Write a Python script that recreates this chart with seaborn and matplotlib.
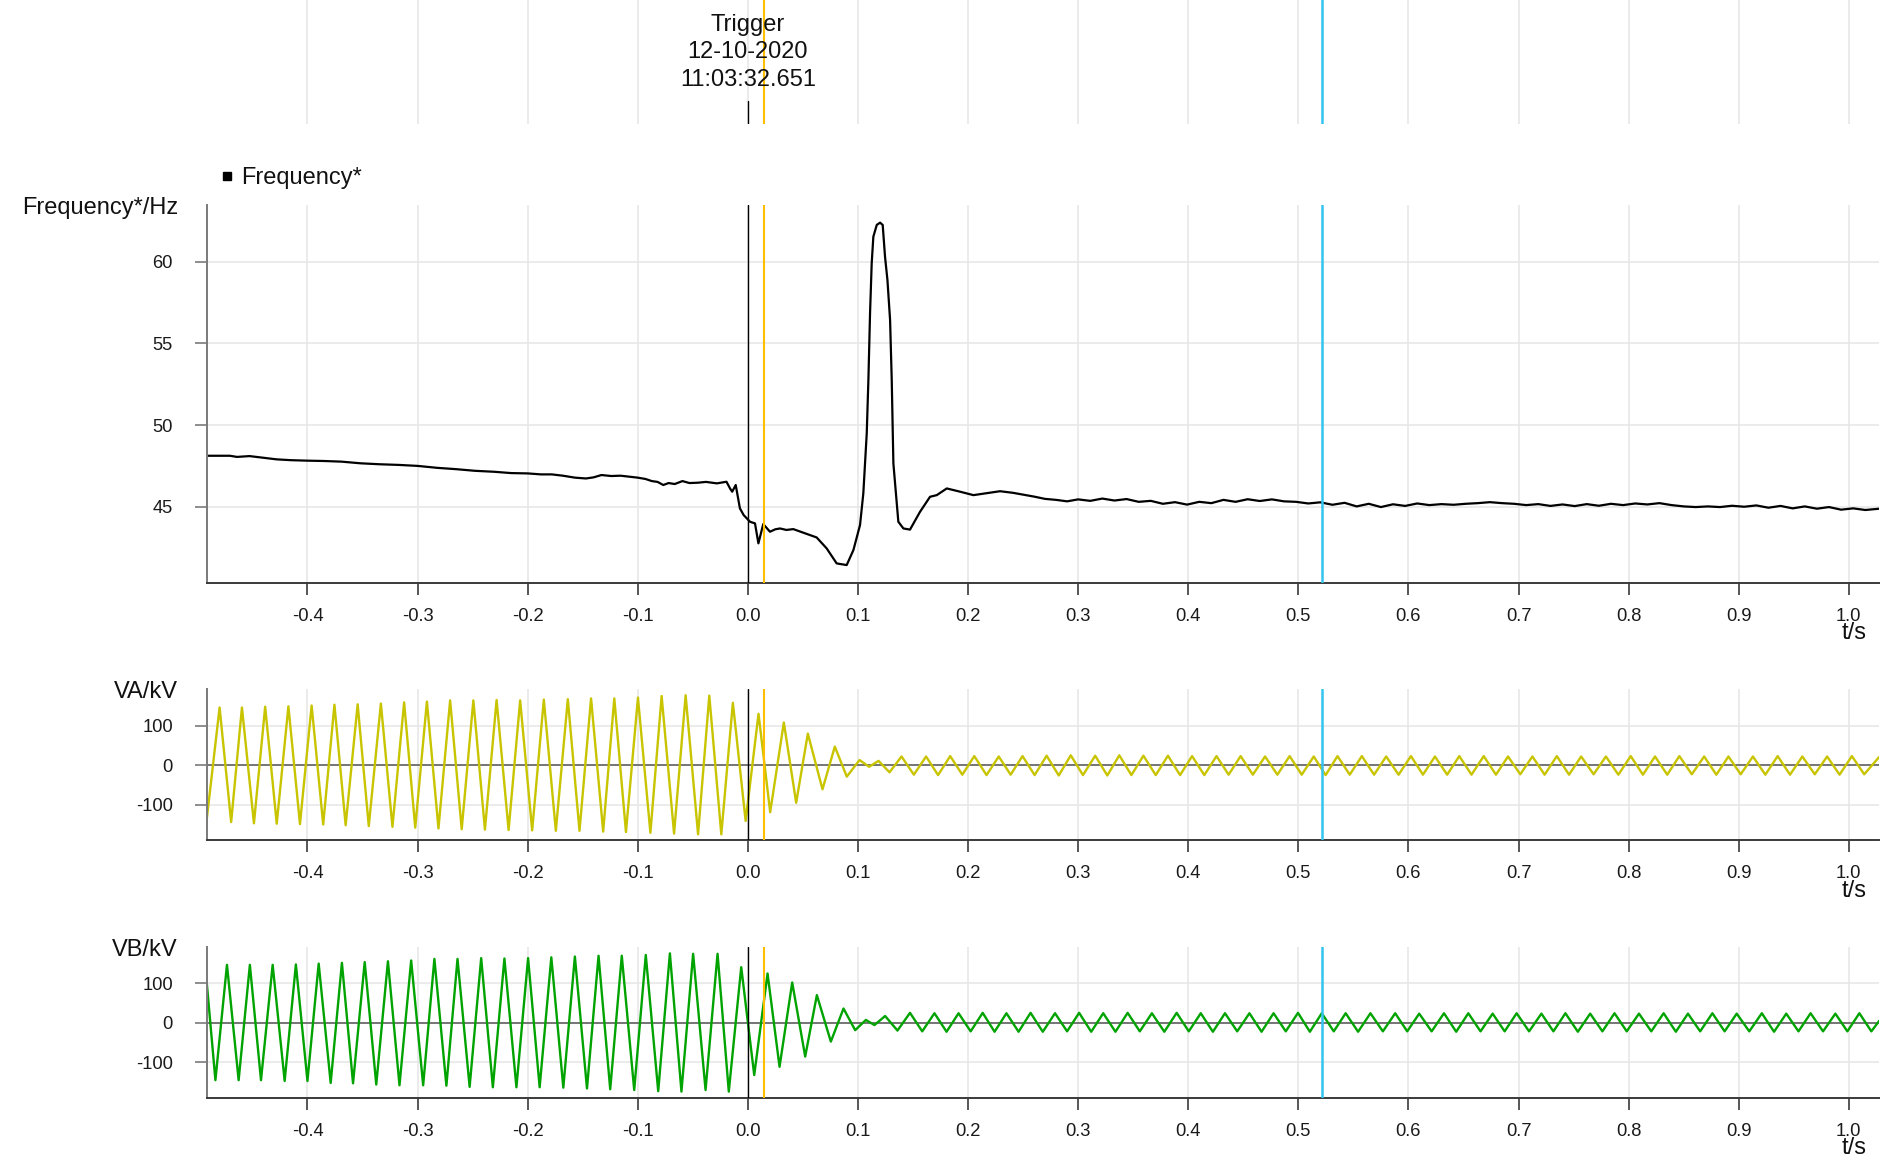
import matplotlib
matplotlib.use("Agg")
import matplotlib.pyplot as plt
from matplotlib.lines import Line2D
import pandas as pd
import seaborn as sns

# --- DATA ---
x_ticks = [-0.4, -0.3, -0.2, -0.1, 0.0, 0.1, 0.2, 0.3, 0.4, 0.5, 0.6, 0.7, 0.8, 0.9, 1.0]
x_tick_labels = ["-0.4", "-0.3", "-0.2", "-0.1", "0.0", "0.1", "0.2", "0.3", "0.4",
                 "0.5", "0.6", "0.7", "0.8", "0.9", "1.0"]
freq_ticks = [45, 50, 55, 60]
volt_ticks = [-100, 0, 100]

t_trigger = 0.0
t_cursor_a = 0.0149
t_cursor_b = 0.5213
trigger_text = ["Trigger", "12-10-2020", "11:03:32.651"]

# frequency trace (s, Hz)
freq_t = [-0.4916, -0.4705, -0.4640, -0.4526, -0.4400, -0.4280, -0.4150, -0.4000, -0.3850, -0.3690,
          -0.3520, -0.3345, -0.3170, -0.3000, -0.2820, -0.2650, -0.2480, -0.2304, -0.2150, -0.2000,
          -0.1880, -0.1780, -0.1680, -0.1570, -0.1470, -0.1400, -0.1330, -0.1240, -0.1156, -0.1080,
          -0.1000, -0.0930, -0.0872, -0.0820, -0.0768, -0.0720, -0.0664, -0.0594, -0.0530, -0.0455,
          -0.0380, -0.0281, -0.0194, -0.0160, -0.0142, -0.0110, -0.0072, -0.0038, 0.0020, 0.0065,
          0.0096, 0.0140, 0.0201, 0.0250, 0.0292, 0.0350, 0.0413, 0.0504, 0.0625, 0.0716,
          0.0807, 0.0898, 0.0959, 0.1019, 0.1049, 0.1080, 0.1095, 0.1110, 0.1125, 0.1140,
          0.1171, 0.1201, 0.1225, 0.1246, 0.1268, 0.1292, 0.1307, 0.1322, 0.1367, 0.1413,
          0.1473, 0.1564, 0.1655, 0.1716, 0.1807, 0.1928, 0.2049, 0.2200, 0.2291, 0.2410,
          0.2520, 0.2600, 0.2700, 0.2800, 0.2900, 0.3000, 0.3110, 0.3220, 0.3330, 0.3440,
          0.3550, 0.3660, 0.3770, 0.3880, 0.3990, 0.4100, 0.4210, 0.4320, 0.4430, 0.4540,
          0.4650, 0.4760, 0.4870, 0.4980, 0.5090, 0.5200, 0.5310, 0.5420, 0.5530, 0.5640,
          0.5750, 0.5860, 0.5970, 0.6080, 0.6190, 0.6300, 0.6410, 0.6520, 0.6630, 0.6740,
          0.6850, 0.6960, 0.7070, 0.7180, 0.7290, 0.7400, 0.7510, 0.7620, 0.7730, 0.7840,
          0.7950, 0.8060, 0.8170, 0.8280, 0.8390, 0.8500, 0.8610, 0.8720, 0.8830, 0.8940,
          0.9050, 0.9160, 0.9270, 0.9380, 0.9490, 0.9600, 0.9710, 0.9820, 0.9930, 1.0040,
          1.0150, 1.0277]
freq_hz = [48.12, 48.12, 48.05, 48.10, 48.00, 47.90, 47.85, 47.82, 47.80, 47.76,
           47.66, 47.60, 47.56, 47.50, 47.38, 47.30, 47.20, 47.14, 47.06, 47.04,
           46.98, 46.98, 46.90, 46.78, 46.73, 46.80, 46.94, 46.88, 46.90, 46.84,
           46.78, 46.70, 46.57, 46.52, 46.33, 46.45, 46.39, 46.57, 46.45, 46.47,
           46.52, 46.43, 46.53, 46.10, 45.92, 46.33, 44.90, 44.49, 44.08, 43.98,
           42.76, 43.94, 43.47, 43.62, 43.67, 43.58, 43.63, 43.41, 43.12, 42.45,
           41.53, 41.43, 42.35, 43.88, 45.82, 49.49, 52.76, 56.84, 59.90, 61.53,
           62.25, 62.39, 62.25, 60.31, 58.88, 56.43, 52.76, 47.65, 44.08, 43.67,
           43.60, 44.69, 45.61, 45.71, 46.12, 45.92, 45.71, 45.86, 45.95, 45.85,
           45.72, 45.62, 45.48, 45.42, 45.33, 45.45, 45.36, 45.50, 45.38, 45.47,
           45.30, 45.36, 45.18, 45.28, 45.13, 45.30, 45.22, 45.42, 45.30, 45.46,
           45.35, 45.45, 45.33, 45.30, 45.20, 45.27, 45.12, 45.24, 45.02, 45.18,
           44.98, 45.15, 45.05, 45.20, 45.10, 45.16, 45.12, 45.18, 45.22, 45.28,
           45.22, 45.18, 45.10, 45.16, 45.05, 45.14, 45.04, 45.16, 45.06, 45.18,
           45.10, 45.20, 45.14, 45.22, 45.10, 45.02, 44.98, 45.02, 44.98, 45.06,
           45.00, 45.08, 44.94, 45.05, 44.90, 45.02, 44.88, 44.98, 44.82, 44.90,
           44.80, 44.88]

# VA: successive peaks / troughs (s, kV)
va_t = [-0.4916, -0.4798, -0.4693, -0.4595, -0.4486, -0.4384, -0.4279, -0.4173, -0.4068, -0.3962,
        -0.3857, -0.3755, -0.3653, -0.3544, -0.3443, -0.3333, -0.3228, -0.3122, -0.3021, -0.2915,
        -0.2810, -0.2704, -0.2599, -0.2493, -0.2388, -0.2282, -0.2173, -0.2068, -0.1959, -0.1853,
        -0.1744, -0.1635, -0.1529, -0.1424, -0.1314, -0.1213, -0.1107, -0.0998, -0.0885, -0.0783,
        -0.0670, -0.0565, -0.0452, -0.0350, -0.0241, -0.0136, -0.0020, 0.0097, 0.0203, 0.0327,
        0.0439, 0.0545, 0.0678, 0.0790, 0.0899, 0.1014, 0.1102, 0.1187, 0.1287, 0.1396,
        0.1508, 0.1619, 0.1728, 0.1838, 0.1948, 0.2057, 0.2168, 0.2279, 0.2387, 0.2495,
        0.2605, 0.2714, 0.2824, 0.2933, 0.3044, 0.3155, 0.3265, 0.3374, 0.3484, 0.3593,
        0.3705, 0.3816, 0.3926, 0.4035, 0.4146, 0.4257, 0.4367, 0.4476, 0.4587, 0.4698,
        0.4810, 0.4921, 0.5031, 0.5140, 0.5248, 0.5356, 0.5467, 0.5577, 0.5688, 0.5798,
        0.5911, 0.6023, 0.6132, 0.6241, 0.6352, 0.6462, 0.6573, 0.6684, 0.6795, 0.6905,
        0.7016, 0.7126, 0.7237, 0.7348, 0.7459, 0.7569, 0.7682, 0.7794, 0.7907, 0.8019,
        0.8130, 0.8240, 0.8351, 0.8461, 0.8574, 0.8686, 0.8797, 0.8907, 0.9018, 0.9129,
        0.9242, 0.9354, 0.9466, 0.9578, 0.9691, 0.9803, 0.9916, 1.0028, 1.0140, 1.0277]
va_kv = [-140, 146, -144, 146, -147, 148, -148, 149, -149, 151,
         -150, 153, -152, 154, -154, 156, -156, 159, -158, 161,
         -160, 164, -162, 164, -163, 165, -164, 164, -165, 166,
         -166, 167, -166, 169, -168, 169, -169, 171, -171, 175,
         -173, 177, -175, 176, -175, 158, -141, 130, -119, 108,
         -95, 80, -61, 47, -29, 13, -4, 11, -18, 22,
         -24, 22, -25, 23, -24, 23, -25, 22, -24, 23,
         -25, 24, -26, 25, -25, 24, -26, 25, -25, 24,
         -25, 24, -25, 23, -25, 23, -24, 23, -24, 22,
         -24, 23, -24, 22, -25, 23, -24, 23, -24, 22,
         -24, 23, -24, 22, -24, 23, -24, 23, -24, 22,
         -23, 22, -24, 23, -24, 22, -23, 22, -24, 23,
         -24, 22, -24, 23, -23, 22, -24, 22, -23, 22,
         -24, 23, -24, 22, -23, 22, -24, 23, -23, 21]

# VB: successive peaks / troughs (s, kV)
vb_t = [-0.4916, -0.4836, -0.4731, -0.4625, -0.4523, -0.4422, -0.4316, -0.4207, -0.4105, -0.4000,
        -0.3898, -0.3789, -0.3687, -0.3586, -0.3480, -0.3375, -0.3269, -0.3164, -0.3058, -0.2949,
        -0.2847, -0.2738, -0.2637, -0.2527, -0.2422, -0.2316, -0.2211, -0.2102, -0.1996, -0.1891,
        -0.1785, -0.1676, -0.1571, -0.1461, -0.1356, -0.1250, -0.1145, -0.1032, -0.0927, -0.0814,
        -0.0708, -0.0603, -0.0497, -0.0384, -0.0275, -0.0173, -0.0060, 0.0058, 0.0179, 0.0288,
        0.0403, 0.0521, 0.0627, 0.0754, 0.0869, 0.0975, 0.1072, 0.1150, 0.1247, 0.1359,
        0.1473, 0.1584, 0.1695, 0.1805, 0.1914, 0.2024, 0.2133, 0.2241, 0.2349, 0.2459,
        0.2568, 0.2679, 0.2790, 0.2900, 0.3009, 0.3119, 0.3228, 0.3339, 0.3450, 0.3560,
        0.3670, 0.3783, 0.3895, 0.4005, 0.4114, 0.4224, 0.4334, 0.4445, 0.4556, 0.4666,
        0.4775, 0.4886, 0.4997, 0.5105, 0.5213, 0.5322, 0.5430, 0.5543, 0.5655, 0.5768,
        0.5880, 0.5989, 0.6098, 0.6211, 0.6323, 0.6434, 0.6544, 0.6655, 0.6765, 0.6874,
        0.6983, 0.7096, 0.7208, 0.7317, 0.7426, 0.7539, 0.7651, 0.7762, 0.7872, 0.7983,
        0.8094, 0.8206, 0.8318, 0.8429, 0.8539, 0.8650, 0.8761, 0.8872, 0.8982, 0.9096,
        0.9210, 0.9321, 0.9432, 0.9543, 0.9653, 0.9766, 0.9878, 0.9987, 1.0096, 1.0205,
        1.0277]
vb_kv = [106, -146, 147, -146, 147, -146, 147, -148, 148, -148,
         150, -153, 152, -154, 154, -157, 156, -159, 158, -159,
         162, -160, 162, -163, 164, -164, 163, -164, 164, -164,
         166, -165, 168, -167, 170, -169, 170, -171, 172, -174,
         176, -175, 175, -171, 175, -175, 141, -133, 125, -112,
         102, -86, 70, -48, 36, -19, 7, -6, 17, -20,
         25, -22, 24, -23, 24, -22, 25, -23, 24, -23,
         25, -23, 24, -22, 25, -23, 24, -23, 25, -22,
         24, -23, 25, -22, 24, -23, 24, -22, 24, -23,
         24, -22, 25, -23, 24, -22, 24, -23, 24, -22,
         24, -22, 23, -22, 24, -23, 24, -22, 23, -22,
         24, -22, 23, -22, 24, -23, 23, -22, 24, -22,
         23, -22, 24, -23, 23, -22, 24, -22, 23, -22,
         24, -23, 23, -22, 24, -22, 23, -22, 24, -22,
         5]

freq_df = pd.DataFrame({"t": freq_t, "f": freq_hz})
va_df = pd.DataFrame({"t": va_t, "v": va_kv})
vb_df = pd.DataFrame({"t": vb_t, "v": vb_kv})

# --- STYLE ---
sns.set_theme(style="whitegrid")
plt.rcParams["font.family"] = ["Liberation Sans", "DejaVu Sans"]

W, H = 1888, 1160
X_MIN, X_MAX = -0.4916, 1.0277
LEFT, RIGHT = 206.6, 1879.3
GRID_C = "#e6e6e6"


def box(top, bottom):
    # pixel box -> figure fraction
    return [LEFT / W, 1 - bottom / H, (RIGHT - LEFT) / W, (bottom - top) / H]


def add_cursors(ax, trig_ymax=1.0):
    ax.axvline(t_trigger, ymin=0, ymax=trig_ymax, color="black", lw=1.0, zorder=5)
    ax.axvline(t_cursor_a, color="#ffbf00", lw=1.5, zorder=5)
    ax.axvline(t_cursor_b, color="#33c4f0", lw=1.8, zorder=5)


def style_panel(ax, ylim, yticks, ylabel, top_px):
    ax.set_xlim(X_MIN, X_MAX)
    ax.set_ylim(*ylim)
    ax.set_xticks(x_ticks)
    ax.set_xticklabels(x_tick_labels)
    ax.set_yticks(yticks)
    ax.set_yticklabels([str(v) for v in yticks])
    ax.set_xlabel("")
    ax.set_ylabel("")
    ax.grid(True, color=GRID_C, lw=1.1)
    ax.set_axisbelow(True)
    for s in ["top", "right"]:
        ax.spines[s].set_visible(False)
    ax.spines["left"].set_color("#7a7a7a")
    ax.spines["left"].set_linewidth(1.4)
    ax.spines["bottom"].set_color("#3a3a3a")
    ax.spines["bottom"].set_linewidth(1.4)
    ax.tick_params(axis="x", bottom=True, length=8.5, width=1.2, color="#3a3a3a",
                   pad=9.5, labelsize=13.2, labelcolor="#1a1a1a")
    ax.tick_params(axis="y", left=True, length=8.3, width=1.2, color="#7a7a7a",
                   pad=16, labelsize=13.2, labelcolor="#1a1a1a")
    fig.text(178 / W, 1 - (top_px + 8.8) / H, ylabel, ha="right", va="baseline",
             fontsize=17, color="#111111")
    ax.annotate("t/s", xy=(0.9847, 0), xycoords="axes fraction",
                xytext=(0, -56.5 * 0.72), textcoords="offset points",
                ha="center", va="baseline", fontsize=17, color="#111111")


fig = plt.figure(figsize=(W / 100, H / 100), dpi=100)

# --- TRIGGER STRIP ---
ax_top = fig.add_axes(box(0, 124))
ax_top.set_xlim(X_MIN, X_MAX)
ax_top.set_ylim(0, 1)
ax_top.set_xticks(x_ticks)
ax_top.set_xticklabels([])
ax_top.set_yticks([])
ax_top.tick_params(length=0)
ax_top.grid(True, axis="x", color=GRID_C, lw=1.1)
for s in ax_top.spines.values():
    s.set_visible(False)
add_cursors(ax_top, trig_ymax=(124 - 101) / 124)
x_trig = LEFT + (t_trigger - X_MIN) / (X_MAX - X_MIN) * (RIGHT - LEFT)
for line, base in zip(trigger_text, [30.7, 58.2, 85.7]):
    fig.text(x_trig / W, 1 - base / H, line, ha="center", va="baseline",
             fontsize=17, color="#111111")

# --- FREQUENCY ---
ax_f = fig.add_axes(box(205, 582.7))
sns.lineplot(data=freq_df, x="t", y="f", ax=ax_f, color="black", lw=1.6,
             sort=False, estimator=None)
add_cursors(ax_f)
style_panel(ax_f, (40.35, 63.47), freq_ticks, "Frequency*/Hz", 205)
fig.add_artist(Line2D([226.5 / W], [1 - 176 / H], marker="s", markersize=6.3,
                      color="black", linestyle="", transform=fig.transFigure))
fig.text(241 / W, 1 - 184 / H, "Frequency*", ha="left", va="baseline",
         fontsize=17, color="#111111")

# --- VA ---
ax_a = fig.add_axes(box(689.3, 840.3))
ax_a.axhline(0, color="#555555", lw=1.1, zorder=1.5)
sns.lineplot(data=va_df, x="t", y="v", ax=ax_a, color="#c8c400", lw=1.7,
             sort=False, estimator=None, zorder=2)
add_cursors(ax_a)
style_panel(ax_a, (-190, 192), volt_ticks, "VA/kV", 689.3)

# --- VB ---
ax_b = fig.add_axes(box(946.7, 1097.7))
ax_b.axhline(0, color="#555555", lw=1.1, zorder=1.5)
sns.lineplot(data=vb_df, x="t", y="v", ax=ax_b, color="#00a300", lw=1.7,
             sort=False, estimator=None, zorder=2)
add_cursors(ax_b)
style_panel(ax_b, (-190.5, 193), volt_ticks, "VB/kV", 946.7)

fig.savefig("out.png", dpi=100)
plt.close(fig)
